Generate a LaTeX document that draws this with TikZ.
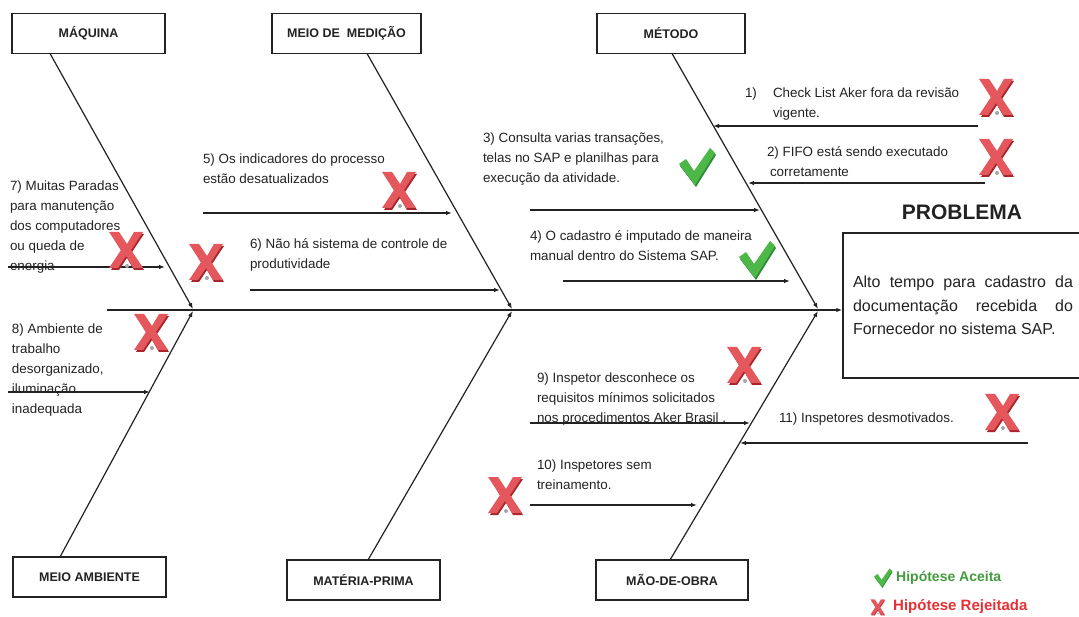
\documentclass[tikz,border=0pt]{standalone}
\usepackage{fontspec}
\setmainfont{Liberation Sans}
\usetikzlibrary{arrows.meta}
\definecolor{ink}{HTML}{222222}
\definecolor{okgreen}{HTML}{4DB848}
\definecolor{okdark}{HTML}{2E8B3A}
\definecolor{badred}{HTML}{E53035}
\definecolor{xfill}{HTML}{E4575C}
\definecolor{xdark}{HTML}{A8262B}
\tikzset{
  cat/.style={draw=ink, line width=1.4pt, inner sep=0pt, outer sep=0pt,
    minimum height=40pt, font=\fontsize{12.5}{14}\selectfont\bfseries, text=ink},
  bone/.style={draw=ink, line width=1.2pt, -{Latex[length=6pt,width=4.5pt]}},
  sub/.style={draw=ink, line width=1.2pt, -{Latex[length=6pt,width=4.5pt]}},
  lbl/.style={anchor=north west, inner sep=0pt, outer sep=0pt, align=left,
    font=\fontsize{13.4}{20}\selectfont, text=ink},
  xmark/.pic={
    \fill[xdark] (-16,-16) -- (-7,-16) -- (0,-4) -- (8,-16) -- (17,-16) -- (5,2) -- (17,20) -- (7,20) -- (0,8) -- (-8,20) -- (-16,20) -- (-5,2) -- cycle;
    \fill[xfill] (-18,-18) -- (-8,-18) -- (0,-6) -- (7,-18) -- (16,-18) -- (4,0) -- (16,18) -- (6,18) -- (-1,6) -- (-9,18) -- (-18,18) -- (-6,0) -- cycle;
    \fill[gray!70] (0,16) circle (2);
  },
  chk/.pic={
    \fill[okdark] (-17,-1) -- (-10,-6) -- (-2,6) -- (14,-17) -- (19,-12) -- (-1,20) -- cycle;
    \fill[okgreen] (-18,-3) -- (-11,-8) -- (-3,4) -- (13,-19) -- (18,-14) -- (-2,18) -- cycle;
  }
}
\begin{document}
\begin{tikzpicture}[x=1pt,y=-1pt]
\useasboundingbox (0,0) rectangle (1079,617);
% category boxes
\node[cat, minimum width=153pt] (maq) at (88.5,33.5) {MÁQUINA};
\node[cat, minimum width=149pt] (med) at (346.5,33.5) {MEIO DE\ \ MEDIÇÃO};
\node[cat, minimum width=148pt] (met) at (671,33.5) {MÉTODO};
\node[cat, minimum width=153pt] (amb) at (89.5,577) {MEIO AMBIENTE};
\node[cat, minimum width=153pt] (mat) at (363.5,580) {MATÉRIA-PRIMA};
\node[cat, minimum width=152pt] (mao) at (672,580) {MÃO-DE-OBRA};
% problem
\node[font=\fontsize{21}{24}\selectfont\bfseries, text=ink, inner sep=0pt] (ptitle) at (962,212) {PROBLEMA};
\node[draw=ink, line width=1.4pt, minimum width=240pt, minimum height=145pt, inner sep=0pt,
  text width=220pt, align=justify, font=\fontsize{16}{23.5}\selectfont, text=ink] (prob) at (963,305.5)
  {Alto tempo para cadastro da\linebreak documentação recebida do\linebreak Fornecedor no sistema SAP.};
% spine
\coordinate (spL) at (107,310);
\draw[bone] (spL) -- (prob.west |- spL);
\coordinate (j1) at (193,309);
\coordinate (j2) at (512,309);
\coordinate (j3) at (818,309);
\coordinate (k1) at (193,311);
\coordinate (k2) at (512,311);
\coordinate (k3) at (818,311);
\draw[bone] ([xshift=38pt]maq.south west) -- (j1);
\draw[bone] ([xshift=95pt]med.south west) -- (j2);
\draw[bone] ([xshift=75pt]met.south west) -- (j3);
\draw[bone] ([xshift=47pt]amb.north west) -- (k1);
\draw[bone] ([xshift=81pt]mat.north west) -- (k2);
\draw[bone] ([xshift=74pt]mao.north west) -- (k3);
% sub-cause arrows
\coordinate (a7s) at (8,267);   \coordinate (a7e) at (165,267);
\coordinate (a5s) at (203,213); \coordinate (a5e) at (452,213);
\coordinate (a6s) at (250,290); \coordinate (a6e) at (500,290);
\coordinate (a3s) at (530,210); \coordinate (a3e) at (760,210);
\coordinate (a4s) at (563,281); \coordinate (a4e) at (790,281);
\coordinate (a1s) at (978,126); \coordinate (a1e) at (713,126);
\coordinate (a2s) at (985,183); \coordinate (a2e) at (748,183);
\coordinate (a8s) at (8,392);   \coordinate (a8e) at (150,392);
\coordinate (a9s) at (530,423); \coordinate (a9e) at (750,423);
\coordinate (a10s) at (530,505); \coordinate (a10e) at (697,505);
\coordinate (a11s) at (1028,443); \coordinate (a11e) at (740,443);
\foreach \n in {7,5,6,3,4,1,2,8,9,10,11} {\draw[sub] (a\n s) -- (a\n e);}
% labels
\node[lbl] (t7) at (10,181) {7) Muitas Paradas\\para manutenção\\dos computadores\\ou queda de\\energia};
\node[lbl] (t5) at (203,154) {5) Os indicadores do processo\\estão desatualizados};
\node[lbl] (t6) at (250,239) {6) Não há sistema de controle de\\produtividade};
\node[lbl] (t3) at (483,133) {3) Consulta varias transações,\\telas no SAP e planilhas para\\execução da atividade.};
\node[lbl] (t4) at (530,231) {4) O cadastro é imputado de maneira\\manual dentro do Sistema SAP.};
\node[lbl] (t1) at (745,88) {\makebox[28pt][l]{1)}Check List Aker fora da revisão\\\hspace*{28pt}vigente.};
\node[lbl] (t2) at (767,147) {2) FIFO está sendo executado\\\hspace*{3pt}corretamente};
\node[lbl] (t8) at (12,324) {8) Ambiente de\\trabalho\\desorganizado,\\iluminação\\inadequada};
\node[lbl] (t9) at (537,373) {9) Inspetor desconhece os\\requisitos mínimos solicitados\\nos procedimentos Aker Brasil .};
\node[lbl] (t10) at (537,460) {10) Inspetores sem\\treinamento.};
\node[lbl] (t11) at (779,413) {11) Inspetores desmotivados.};
% hypothesis marks
\pic at (400,190) {xmark};
\pic at (127,250) {xmark};
\pic at (207,262) {xmark};
\pic at (152,332) {xmark};
\pic at (997,97) {xmark};
\pic at (997,157) {xmark};
\pic at (745,365) {xmark};
\pic at (1003,412) {xmark};
\pic at (506,495) {xmark};
\pic at (697,167) {chk};
\pic at (757,260) {chk};
% legend
\pic[scale=0.5] at (883,578) {chk};
\pic[scale=0.42] at (878,607) {xmark};
\node[anchor=west, inner sep=0pt, text=okgreen!85!black, font=\fontsize{14}{16}\selectfont\bfseries] (lg1) at (896,578) {Hipótese Aceita};
\node[anchor=west, inner sep=0pt, text=badred, font=\fontsize{15}{17}\selectfont\bfseries] (lg2) at (893,607) {Hipótese Rejeitada};
\end{tikzpicture}
\end{document}
